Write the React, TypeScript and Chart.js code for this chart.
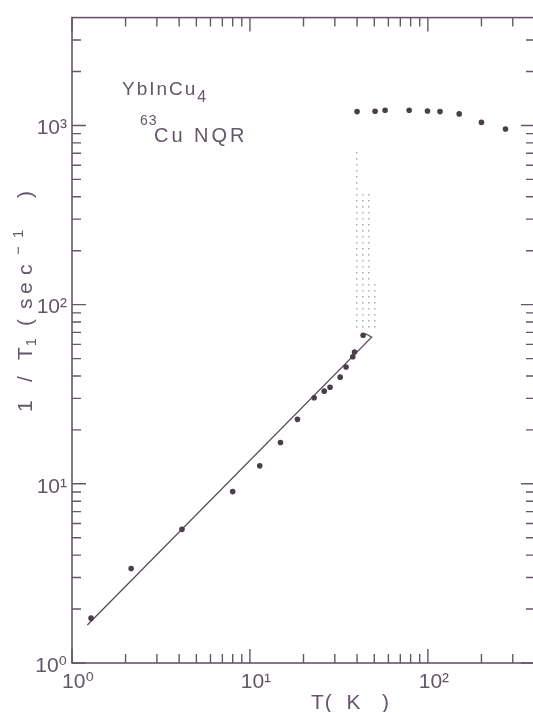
import React, { useEffect, useRef } from 'react';
import { Chart, registerables } from 'chart.js';

Chart.register(...registerables);

// ---- data ----
const lowT = [1.28, 2.15, 4.15, 8.0, 11.35, 14.85, 18.5, 22.95, 26.15, 28.2, 32.15, 34.7, 37.85, 38.7, 43.25];
const lowRate = [1.78, 3.37, 5.57, 9.05, 12.6, 17.0, 22.9, 30.2, 32.9, 34.6, 39.4, 44.9, 51.2, 54.4, 67.5];
const highT = [40, 50.5, 57.5, 78.5, 99.5, 117, 150, 200, 273];
const highRate = [1195, 1200, 1215, 1215, 1205, 1195, 1160, 1040, 955];
const fitT = [1.22, 48.3, 44.5];
const fitRate = [1.63, 65.8, 69.0];
const transT = [38.5, 38.5, 41.1, 41.1, 48.6, 48.6, 52.5, 52.5];
const transRate = [73.3, 736, 736, 415, 415, 132, 132, 73.3];

const xTicks = [1, 2, 3, 4, 5, 6, 7, 8, 9, 10, 20, 30, 40, 50, 60, 70, 80, 90, 100, 200, 300];
const yTicks = [1, 2, 3, 4, 5, 6, 7, 8, 9, 10, 20, 30, 40, 50, 60, 70, 80, 90, 100, 200, 300, 400, 500, 600, 700, 800, 900, 1000, 2000, 3000];
const decadeLabels = ['10⁰', '10¹', '10²', '10³'];

const X_MIN = 1, X_MAX = 400, Y_MIN = 1, Y_MAX = 4000;

const INK = '#66566a';
const DOT = '#4a3e4b';
const STIPPLE = '#b9a5b6';
const SANS = "'Liberation Sans', 'DejaVu Sans', sans-serif";

const pts = (xs: number[], ys: number[]) => xs.map((x, i) => ({ x, y: ys[i] }));
const decadeOf = (v: number) => {
  const e = Math.log10(v);
  return Math.abs(e - Math.round(e)) < 1e-9 ? Math.round(e) : -1;
};

type Run = { t: string; size: number; dy?: number };
function drawRuns(ctx: CanvasRenderingContext2D, runs: Run[], x: number, y: number, family: string) {
  let cx = x;
  for (const r of runs) {
    ctx.font = `${r.size}px ${family}`;
    ctx.fillText(r.t, cx, y + (r.dy || 0));
    cx += ctx.measureText(r.t).width;
  }
}

// y-axis title pieces: [text, position along the rotated baseline, size, baseline shift]
const yTitle: [string, number, number, number][] = [
  ['1', -114, 21, 0],
  ['/', -84, 21, 0],
  ['T', -62, 21, 0],
  ['1', -48, 14, 4],
  ['(', -28, 21, 0],
  ['s', -11, 21, 0],
  ['e', 4, 21, 0],
  ['c', 23, 21, 0],
  ['−', 43, 15, -9],
  ['1', 60, 15, -9],
  [')', 100, 21, 0],
];

const framePlugin = {
  id: 'frameTicksText',
  afterDraw(chart: any) {
    const { ctx, chartArea: a, scales } = chart;
    const xs = scales.x, ys = scales.y;
    ctx.save();
    ctx.strokeStyle = INK;
    ctx.lineWidth = 1.6;
    ctx.strokeRect(a.left, a.top, a.right - a.left, a.bottom - a.top);
    ctx.lineWidth = 1.4;
    ctx.beginPath();
    for (const v of xTicks) {
      const p = xs.getPixelForValue(v);
      const len = decadeOf(v) >= 0 ? 14 : 9;
      ctx.moveTo(p, a.bottom); ctx.lineTo(p, a.bottom - len);
      ctx.moveTo(p, a.top); ctx.lineTo(p, a.top + len);
    }
    for (const v of yTicks) {
      const p = ys.getPixelForValue(v);
      const len = decadeOf(v) >= 0 ? 14 : 9;
      ctx.moveTo(a.left, p); ctx.lineTo(a.left + len, p);
      ctx.moveTo(a.right, p); ctx.lineTo(a.right - len, p);
    }
    ctx.stroke();

    ctx.fillStyle = INK;
    ctx.textBaseline = 'alphabetic';
    ctx.textAlign = 'left';

    // x title
    ctx.letterSpacing = '1px';
    ctx.font = `21px ${SANS}`;
    ctx.fillText('T(  K   )', 311, 709);
    ctx.letterSpacing = '0px';

    // y title (rotated)
    ctx.save();
    ctx.translate(24, 298);
    ctx.rotate(-Math.PI / 2);
    for (const [t, px, size, dy] of yTitle) {
      ctx.font = `${size}px ${SANS}`;
      ctx.fillText(t, px, 8 + dy);
    }
    ctx.restore();

    // annotation
    ctx.letterSpacing = '2px';
    drawRuns(ctx, [{ t: 'YbInCu', size: 19 }, { t: '4', size: 16, dy: 6.5 }], 122, 95, SANS);
    ctx.letterSpacing = '1px';
    drawRuns(ctx, [{ t: '63', size: 14 }], 140, 125, SANS);
    ctx.letterSpacing = '3px';
    drawRuns(ctx, [{ t: 'Cu NQR', size: 20 }], 154, 141.5, SANS);
    ctx.letterSpacing = '0px';
    ctx.restore();
  },
};

function makeStipple(): CanvasPattern | string {
  const c = document.createElement('canvas');
  c.width = 6; c.height = 6;
  const g = c.getContext('2d');
  if (!g) return STIPPLE;
  g.fillStyle = STIPPLE;
  g.fillRect(2, 2, 1.5, 1.5);
  const p = g.createPattern(c, 'repeat');
  return p || STIPPLE;
}

export default function App() {
  const ref = useRef<HTMLCanvasElement | null>(null);
  useEffect(() => {
    if (!ref.current) return;
    const chart = new Chart(ref.current, {
      type: 'scatter',
      data: {
        datasets: [
          {
            label: 'transition region',
            data: pts(transT, transRate),
            showLine: true,
            fill: 'shape',
            backgroundColor: makeStipple(),
            borderColor: 'rgba(0,0,0,0)',
            borderWidth: 0,
            pointRadius: 0,
            order: 4,
          } as any,
          {
            label: 'fit',
            data: pts(fitT, fitRate),
            showLine: true,
            borderColor: '#5a4b5a',
            borderWidth: 1.3,
            pointRadius: 0,
            fill: false,
            order: 3,
          },
          {
            label: 'low T',
            data: pts(lowT, lowRate),
            pointRadius: 2.8,
            pointBackgroundColor: DOT,
            pointBorderWidth: 0,
            order: 1,
          },
          {
            label: 'high T',
            data: pts(highT, highRate),
            pointRadius: 2.8,
            pointBackgroundColor: DOT,
            pointBorderWidth: 0,
            order: 2,
          },
        ],
      },
      options: {
        responsive: false,
        animation: false,
        events: [],
        layout: { padding: { top: 12, right: 10, left: 0, bottom: 0 } },
        plugins: { legend: { display: false }, tooltip: { enabled: false } },
        scales: {
          x: {
            type: 'logarithmic',
            position: 'bottom',
            min: X_MIN,
            max: X_MAX,
            grid: { display: false, drawTicks: false },
            border: { display: false },
            afterBuildTicks: (s: any) => { s.ticks = xTicks.map((v) => ({ value: v })); },
            afterFit: (s: any) => { s.height = 49; },
            ticks: {
              autoSkip: false,
              maxRotation: 0,
              padding: 7,
              labelOffset: 6,
              color: INK,
              font: { family: SANS, size: 21 },
              callback: (v: any) => { const d = decadeOf(Number(v)); return d >= 0 ? decadeLabels[d] : ''; },
            },
          },
          y: {
            type: 'logarithmic',
            position: 'left',
            min: Y_MIN,
            max: Y_MAX,
            grid: { display: false, drawTicks: false },
            border: { display: false },
            afterBuildTicks: (s: any) => { s.ticks = yTicks.map((v) => ({ value: v })); },
            afterFit: (s: any) => { s.width = 72; },
            ticks: {
              autoSkip: false,
              padding: 5,
              labelOffset: 3,
              color: INK,
              font: { family: SANS, size: 21 },
              callback: (v: any) => { const d = decadeOf(Number(v)); return d >= 0 ? decadeLabels[d] : ''; },
            },
          },
        },
      } as any,
      plugins: [framePlugin],
    });
    return () => chart.destroy();
  }, []);
  return (
    <div style={{ position: 'fixed', left: 0, top: 0, width: 533, height: 712, overflow: 'hidden', background: '#fff' }}>
      <canvas ref={ref} width={545} height={712} style={{ display: 'block', width: 545, height: 712 }} />
    </div>
  );
}
